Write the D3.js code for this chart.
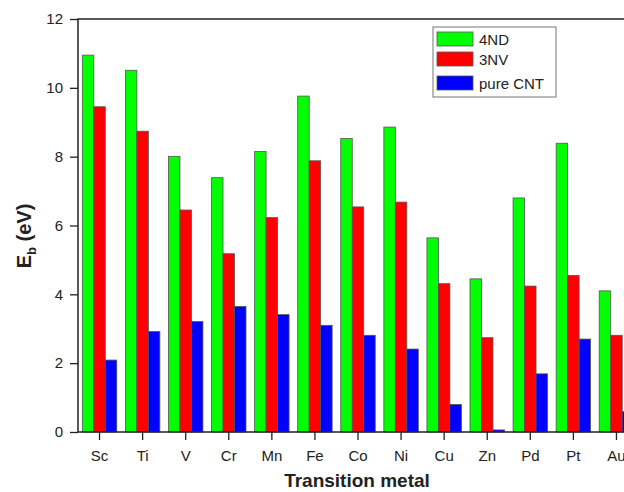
<!DOCTYPE html>
<html>
<head>
<meta charset="utf-8">
<script src="https://cdn.jsdelivr.net/npm/d3@7"></script>
<style>
  body { margin: 0; background: #fff; }
  svg { display: block; font-family: "Liberation Sans", Arial, sans-serif; }
</style>
</head>
<body>
<div id="chart"></div>
<script>
// data
var metals = ["Sc", "Ti", "V", "Cr", "Mn", "Fe", "Co", "Ni", "Cu", "Zn", "Pd", "Pt", "Au"];
var nd4 = [10.95, 10.51, 8.01, 7.39, 8.15, 9.76, 8.53, 8.86, 5.64, 4.45, 6.80, 8.39, 4.10];
var nv3 = [9.45, 8.74, 6.45, 5.18, 6.23, 7.88, 6.54, 6.68, 4.31, 2.74, 4.24, 4.55, 2.81];
var pureCnt = [2.09, 2.92, 3.21, 3.65, 3.41, 3.10, 2.81, 2.41, 0.80, 0.06, 1.69, 2.70, 0.59];
var seriesNames = ["4ND", "3NV", "pure CNT"];
var yTicks = [0, 2, 4, 6, 8, 10, 12];

var colors = ["#00ff00", "#ff0000", "#0000ff"];
var allSeries = [nd4, nv3, pureCnt];

var W = 624, H = 492;
// plot area (right edge falls outside the picture)
var plotLeft = 78, plotRight = 638, plotTop = 19, plotBottom = 432;

var svg = d3.select("#chart").append("svg")
    .attr("width", W)
    .attr("height", H);

// scales
var x = d3.scaleBand().domain(metals).range([plotLeft, plotRight])
    .paddingInner(0.2).paddingOuter(0.1);
var xs = d3.scaleBand().domain(d3.range(3)).range([0, x.bandwidth()]);
var y = d3.scaleLinear().domain([0, 12]).range([plotBottom, plotTop]);

// bars
var groups = svg.append("g").selectAll("g")
    .data(metals)
    .enter().append("g")
    .attr("transform", function (d) { return "translate(" + x(d) + ",0)"; });

groups.selectAll("rect")
    .data(function (d, i) { return allSeries.map(function (s, k) { return { k: k, v: s[i] }; }); })
    .enter().append("rect")
    .attr("x", function (d) { return xs(d.k); })
    .attr("width", xs.bandwidth())
    .attr("y", function (d) { return y(d.v); })
    .attr("height", function (d) { return y(0) - y(d.v); })
    .style("fill", function (d) { return colors[d.k]; })
    .style("stroke", "#555")
    .style("stroke-width", 0.8);

// frame
svg.append("rect")
    .attr("x", plotLeft).attr("y", plotTop)
    .attr("width", plotRight - plotLeft).attr("height", plotBottom - plotTop)
    .style("fill", "none")
    .style("stroke", "#222")
    .style("stroke-width", 1.5);

// y axis
var yAxis = svg.append("g")
    .attr("transform", "translate(" + plotLeft + ",0)")
    .call(d3.axisLeft(y).tickValues(yTicks).tickSize(8).tickPadding(7));
yAxis.select(".domain").remove();
yAxis.selectAll("line").style("stroke", "#222").style("stroke-width", 1.3);
yAxis.selectAll("text").style("font-size", "15px").style("fill", "#222")
    .style("font-family", "'Liberation Sans', Arial, sans-serif");

// x axis
var xAxis = svg.append("g")
    .attr("transform", "translate(0," + plotBottom + ")")
    .call(d3.axisBottom(x).tickSize(8).tickPadding(10));
xAxis.select(".domain").remove();
xAxis.selectAll("line").style("stroke", "#222").style("stroke-width", 1.3);
xAxis.selectAll("text").style("font-size", "15px").style("fill", "#222")
    .style("font-family", "'Liberation Sans', Arial, sans-serif");

// axis titles
svg.append("text")
    .attr("x", 357).attr("y", 487)
    .style("text-anchor", "middle")
    .style("font-size", "19px")
    .style("font-weight", "bold")
    .style("fill", "#222")
    .text("Transition metal");

var yl = svg.append("text")
    .attr("transform", "translate(31,236) rotate(-90)")
    .style("text-anchor", "middle")
    .style("font-size", "20px")
    .style("font-weight", "bold")
    .style("fill", "#222");
yl.append("tspan").text("E");
yl.append("tspan").attr("dy", 5).style("font-size", "13px").text("b");
yl.append("tspan").attr("dy", -5).text(" (eV)");

// legend
var lg = svg.append("g").attr("transform", "translate(433,27)");
lg.append("rect")
    .attr("width", 123).attr("height", 70)
    .style("fill", "#fff")
    .style("stroke", "#777")
    .style("stroke-width", 1);
var rows = [5, 25, 49];
seriesNames.forEach(function (name, i) {
    lg.append("rect")
        .attr("x", 4).attr("y", rows[i])
        .attr("width", 36).attr("height", 14)
        .style("fill", colors[i])
        .style("stroke", "#555")
        .style("stroke-width", 0.8);
    lg.append("text")
        .attr("x", 46).attr("y", rows[i] + 13)
        .style("font-size", "15px")
        .style("fill", "#222")
        .text(name);
});
</script>
</body>
</html>
